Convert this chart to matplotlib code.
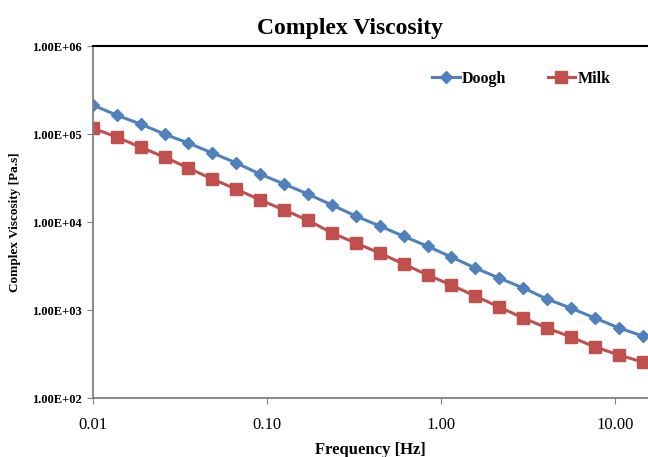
import numpy as np
import matplotlib.pyplot as plt
from matplotlib.ticker import FixedLocator, FuncFormatter, NullLocator

freq = [0.0100, 0.0137, 0.0188, 0.0258, 0.0354, 0.0486, 0.0667, 0.0916,
        0.126, 0.172, 0.237, 0.325, 0.446, 0.612, 0.840, 1.15,
        1.58, 2.17, 2.98, 4.09, 5.61, 7.70, 10.6, 14.5]
doogh = [214000, 164000, 130000, 100000, 79000, 61000, 47000, 35000,
         27000, 20800, 15600, 11700, 9000, 6900, 5300, 4000,
         3000, 2300, 1780, 1330, 1050, 810, 624, 507]
milk = [117000, 92500, 71000, 54800, 41100, 30800, 23700, 17800,
        13700, 10500, 7500, 5770, 4440, 3330, 2500, 1920,
        1440, 1080, 810, 624, 493, 380, 308, 256]
xticks = [0.01, 0.1, 1, 10]
yticks = [1e2, 1e3, 1e4, 1e5, 1e6]

plt.rcParams['font.family'] = ['Liberation Serif', 'DejaVu Serif']

fig = plt.figure(figsize=(6.48, 4.57), dpi=100)
ax = fig.add_axes([0.1435, 0.129, 0.8565, 0.77])

ax.plot(freq, doogh, color='#4F81BD', marker='D', markersize=6, lw=2.2, label='Doogh')
ax.plot(freq, milk, color='#C0504D', marker='s', markersize=8, lw=2.2, label='Milk')

ax.set_xscale('log')
ax.set_yscale('log')
ax.set_xlim(0.01, 15.5)
ax.set_ylim(1e2, 1e6)

ax.xaxis.set_major_locator(FixedLocator(xticks))
ax.xaxis.set_minor_locator(NullLocator())
ax.yaxis.set_major_locator(FixedLocator(yticks))
ax.yaxis.set_minor_locator(NullLocator())
ax.xaxis.set_major_formatter(FuncFormatter(lambda v, p: '%.2f' % v))
ax.yaxis.set_major_formatter(FuncFormatter(lambda v, p: '%.2E' % v))

for lab in ax.get_yticklabels():
    lab.set_fontweight('bold')
ax.tick_params(axis='y', labelsize=9, length=4, color='#808080', pad=4)
ax.tick_params(axis='x', labelsize=12, length=4, color='#808080', pad=10)

ax.spines['left'].set_color('#808080')
ax.spines['bottom'].set_color('#808080')
ax.spines['left'].set_linewidth(1.3)
ax.spines['bottom'].set_linewidth(1.3)
ax.spines['top'].set_color('black')
ax.spines['top'].set_linewidth(1.5)
ax.spines['right'].set_visible(False)

fig.text(0.54, 0.938, 'Complex Viscosity', fontsize=17, fontweight='bold',
         ha='center', va='center')
ax.set_xlabel('Frequency [Hz]', fontsize=12, fontweight='bold', labelpad=6)
ax.set_ylabel('Complex Viscosity [Pa.s]', fontsize=9.5, fontweight='bold', labelpad=8)

ax.legend(loc='center', bbox_to_anchor=(0.772, 0.907), ncol=2, frameon=False,
          prop={'weight': 'bold', 'size': 11.5}, handlelength=1.7,
          handletextpad=0.15, columnspacing=2.6)

fig.savefig('out.png', dpi=100)
